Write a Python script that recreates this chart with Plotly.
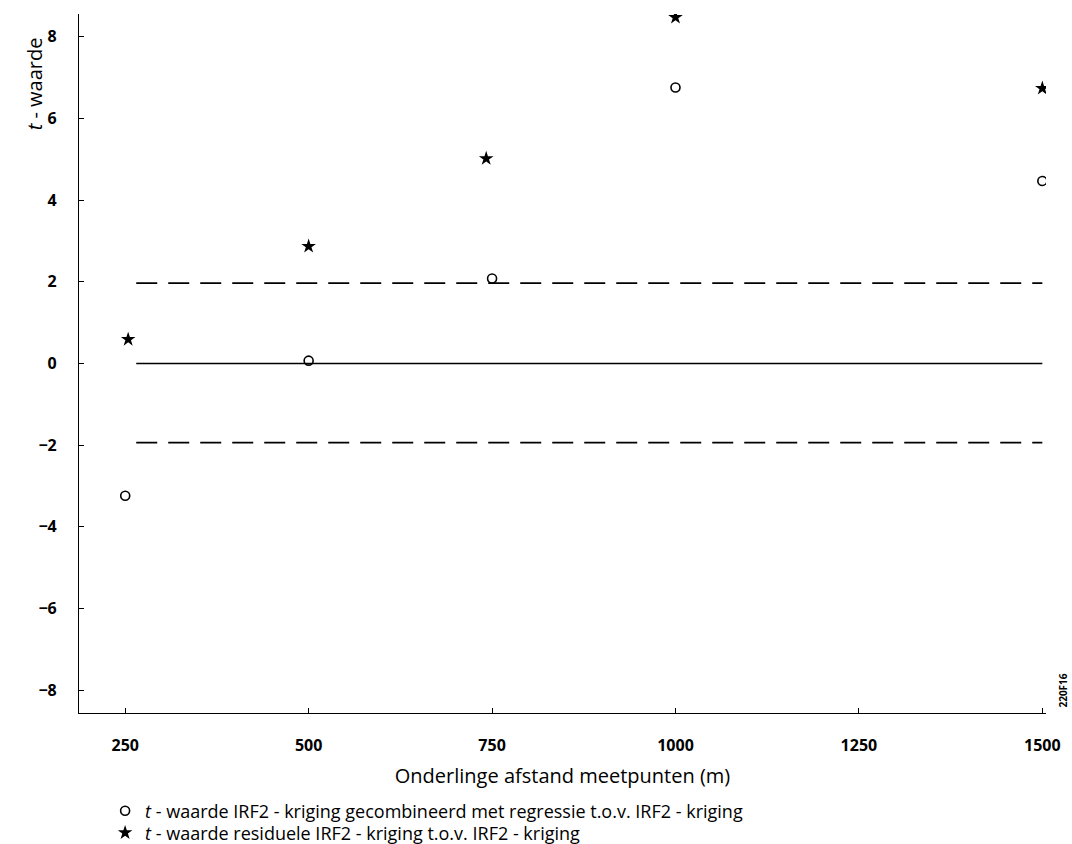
import plotly.graph_objects as go

afstand = [250, 500, 750, 1000, 1500]
t_regressie = [-3.24, 0.07, 2.08, 6.76, 4.47]
afstand_res = [254, 500, 742, 1000, 1500]
t_residueel = [0.59, 2.87, 5.02, 8.48, 6.74]
grens_x = [265, 1500]
grens_boven = 1.97
grens_onder = -1.94
nul = 0.0

x_ticks = [250, 500, 750, 1000, 1250, 1500]
y_ticks = [-8, -6, -4, -2, 0, 2, 4, 6, 8]

fig = go.Figure()
fig.add_trace(go.Scatter(x=grens_x, y=[grens_boven]*2, mode="lines",
                         line=dict(color="black", width=1.8, dash="21px,11px"),
                         showlegend=False, hoverinfo="skip"))
fig.add_trace(go.Scatter(x=grens_x, y=[nul]*2, mode="lines",
                         line=dict(color="black", width=1.5),
                         showlegend=False, hoverinfo="skip"))
fig.add_trace(go.Scatter(x=grens_x, y=[grens_onder]*2, mode="lines",
                         line=dict(color="black", width=1.8, dash="21px,11px"),
                         showlegend=False, hoverinfo="skip"))
fig.add_trace(go.Scatter(x=afstand, y=t_regressie, mode="markers",
                         marker=dict(symbol="circle-open", size=9, color="black", line=dict(width=1.6)),
                         name="<i>t</i> - waarde IRF2 - kriging gecombineerd met regressie t.o.v. IRF2 - kriging",
                         legend="legend"))
fig.add_trace(go.Scatter(x=afstand_res, y=t_residueel, mode="markers",
                         marker=dict(symbol="star", size=11, color="black", line=dict(width=0)),
                         name="<i>t</i> - waarde residuele IRF2 - kriging t.o.v. IRF2 - kriging",
                         legend="legend2"))

leg_common = dict(x=0.027, xanchor="left", yanchor="top",
                  font=dict(size=18, color="black"), itemwidth=30,
                  bgcolor="rgba(0,0,0,0)")

fig.update_layout(
    width=1072, height=844,
    margin=dict(l=79, r=26, t=14, b=131, autoexpand=False),
    plot_bgcolor="white", paper_bgcolor="white",
    font=dict(family="Open Sans", color="black"),
    showlegend=True,
    legend=dict(y=-0.1137, **leg_common),
    legend2=dict(y=-0.1452, **leg_common),
    xaxis=dict(range=[187, 1505], tickvals=x_ticks, ticks="inside", ticklen=5,
               tickcolor="black", showline=True, linecolor="black", linewidth=1.2,
               showgrid=False, zeroline=False, mirror=False,
               tickfont=dict(size=16, family="Open Sans", weight="bold"), ticklabelstandoff=18,
               title=dict(text="Onderlinge afstand meetpunten (m)", font=dict(size=20), standoff=13)),
    yaxis=dict(range=[-8.56, 8.56], tickvals=y_ticks, ticks="inside", ticklen=5,
               tickcolor="black", showline=True, linecolor="black", linewidth=1.2,
               showgrid=False, zeroline=False, mirror=False,
               tickfont=dict(size=16, family="Open Sans", weight="bold"), ticklabelstandoff=18),
)

fig.add_annotation(text="<i>t</i> - waarde", xref="paper", yref="y", x=-0.046, y=6.85,
                   textangle=-90, showarrow=False, font=dict(size=20), xanchor="center", yanchor="middle")
fig.add_annotation(text="220F16", xref="paper", yref="y", x=1.018, y=-8.0,
                   textangle=-90, showarrow=False, font=dict(size=10, weight="bold"), xanchor="center", yanchor="middle")

fig.write_html("out.html", config={"displayModeBar": False},
               post_script="document.body.style.margin='0px';document.body.style.overflow='hidden';")
